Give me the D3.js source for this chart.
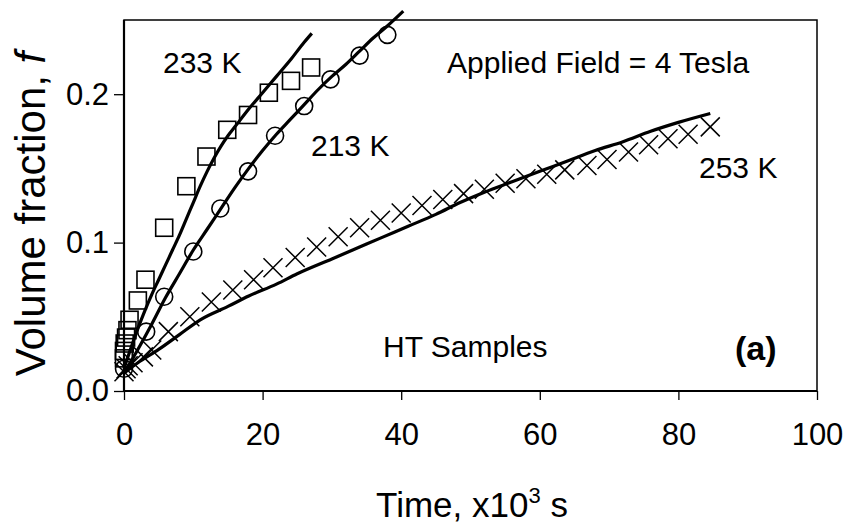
<!DOCTYPE html>
<html><head><meta charset="utf-8">
<script src="https://cdn.jsdelivr.net/npm/d3@7"></script>
<style>body{margin:0;background:#fff}text{font-family:"Liberation Sans",Arial,sans-serif}</style>
</head><body><svg id="c" width="847" height="530"></svg>
<script>
// ---- data (time in 10^3 s, volume fraction f) ----
const xTicks = [0, 20, 40, 60, 80, 100];
const yTicks = [0.0, 0.1, 0.2];
// 233 K squares
const sq233T = [0, 0, 0.1, 0.3, 0.5, 0.8, 2.0, 3.1, 5.8, 9.0, 11.9, 14.9, 17.9, 20.9, 24.1, 27.0];
const sq233F = [0.022, 0.027, 0.032, 0.036, 0.041, 0.048, 0.061, 0.075, 0.110, 0.138, 0.158, 0.176, 0.186, 0.201, 0.209, 0.218];
// 213 K circles
const ci213T = [0, 3.2, 5.8, 10.0, 13.9, 17.9, 21.8, 26.0, 29.8, 34.0, 38.0];
const ci213F = [0.015, 0.040, 0.0635, 0.094, 0.123, 0.148, 0.172, 0.192, 0.210, 0.226, 0.240];
// 253 K crosses
const cr253T = [0, 0.3, 0.6, 1.3, 2.8, 4.0, 6.4, 9.5, 12.6, 15.7, 18.7, 21.5, 24.7, 27.8, 30.9, 34, 37, 40, 43, 46, 49, 52, 55, 58, 61, 63.6, 66.8, 69.7, 72.8, 75.7, 78.5, 81.4, 84.6];
const cr253F = [0.013, 0.015, 0.017, 0.019, 0.023, 0.0276, 0.040, 0.050, 0.060, 0.068, 0.075, 0.083, 0.090, 0.097, 0.104, 0.110, 0.115, 0.120, 0.125, 0.129, 0.133, 0.136, 0.140, 0.143, 0.146, 0.149, 0.152, 0.156, 0.161, 0.166, 0.170, 0.173, 0.178];
// fitted curves
const fit233T = [0, 1, 2, 3, 4, 5, 6, 7, 8, 9, 10, 11, 12, 13, 14, 15, 16, 18, 20, 22, 24, 26, 27.1];
const fit233F = [0.015, 0.029, 0.042, 0.054, 0.065, 0.075, 0.085, 0.095, 0.105, 0.116, 0.127, 0.138, 0.148, 0.157, 0.165, 0.172, 0.178, 0.190, 0.201, 0.212, 0.223, 0.235, 0.241];
const fit213T = [0, 2, 4, 6, 8, 10, 12, 14, 16, 18, 20, 22, 24, 26, 28, 30, 32, 34, 36, 38, 40.3];
const fit213F = [0.012, 0.028, 0.045, 0.063, 0.079, 0.095, 0.109, 0.123, 0.137, 0.150, 0.162, 0.173, 0.183, 0.193, 0.203, 0.212, 0.220, 0.229, 0.238, 0.246, 0.256];
const fit253T = [0, 2, 5, 8, 11, 15, 18, 22, 25, 30, 33, 37, 41, 45, 48.5, 52, 56, 60, 64, 68, 72, 76, 80, 84.6];
const fit253F = [0.012, 0.019, 0.028, 0.038, 0.048, 0.057, 0.064, 0.072, 0.079, 0.089, 0.095, 0.103, 0.111, 0.119, 0.127, 0.134, 0.141, 0.148, 0.155, 0.162, 0.168, 0.175, 0.181, 0.187];
const labels = ["233 K", "213 K", "253 K", "Applied Field = 4 Tesla", "HT Samples", "(a)"];

// ---- layout ----
const svg = d3.select("#c");
const L = 124, R = 817, T = 20, B = 391;
const x = d3.scaleLinear().domain([0, 100]).range([L, R]);
const y = d3.scaleLinear().domain([0, 0.25]).range([B, T]);
const zip = (a, b) => a.map((v, i) => [v, b[i]]);

// frame
svg.append("rect").attr("x", L).attr("y", T).attr("width", R - L).attr("height", B - T)
  .attr("fill", "none").attr("stroke", "#000").attr("stroke-width", 1.5);

// axes
const ya = svg.append("g").attr("transform", `translate(${L},0)`)
  .call(d3.axisLeft(y).tickValues(yTicks).tickFormat(d3.format(".1f")).tickSize(10).tickPadding(5));
const xa = svg.append("g").attr("transform", `translate(0,${B})`)
  .call(d3.axisBottom(x).tickValues(xTicks).tickFormat(d3.format("d")).tickSize(9).tickPadding(23));
[ya, xa].forEach(g => {
  g.select(".domain").attr("stroke", "#000").attr("stroke-width", 2.2);
  g.selectAll(".tick line").attr("stroke", "#000").attr("stroke-width", 1.3);
  g.selectAll(".tick text").attr("fill", "#000").style("font-size", "31px");
});
ya.select(".domain").attr("d", `M0,${T}V${B}`);
xa.select(".domain").attr("d", `M${L},0H${R}`);

// fitted lines
const line = d3.line().x(d => x(d[0])).y(d => y(d[1])).curve(d3.curveMonotoneX);
[[fit233T, fit233F], [fit213T, fit213F], [fit253T, fit253F]].forEach(([t, f]) => {
  svg.append("path").attr("d", line(zip(t, f))).attr("fill", "none")
    .attr("stroke", "#000").attr("stroke-width", 3.2).attr("stroke-linejoin", "round");
});

// markers
svg.append("g").selectAll("rect").data(zip(sq233T, sq233F)).join("rect")
  .attr("x", d => x(d[0]) - 8.5).attr("y", d => y(d[1]) - 8.5).attr("width", 17).attr("height", 17)
  .attr("fill", "none").attr("stroke", "#000").attr("stroke-width", 1.6);
svg.append("g").selectAll("circle").data(zip(ci213T, ci213F)).join("circle")
  .attr("cx", d => x(d[0])).attr("cy", d => y(d[1])).attr("r", 8.5)
  .attr("fill", "none").attr("stroke", "#000").attr("stroke-width", 1.6);
svg.append("g").selectAll("path").data(zip(cr253T, cr253F)).join("path")
  .attr("d", d => { const cx = x(d[0]), cy = y(d[1]), s = 9.5;
    return `M${cx - s},${cy - s}L${cx + s},${cy + s}M${cx - s},${cy + s}L${cx + s},${cy - s}`; })
  .attr("stroke", "#000").attr("stroke-width", 1.5).attr("fill", "none");

// annotations
const ann = [[labels[0], 163, 73], [labels[1], 311, 156], [labels[2], 699, 178],
             [labels[3], 447, 73], [labels[4], 383, 357]];
ann.forEach(([s, ax, ay]) => svg.append("text").attr("x", ax).attr("y", ay)
  .style("font-size", "30px").attr("fill", "#000").text(s));
svg.append("text").attr("x", 735).attr("y", 360).style("font-size", "34px")
  .style("font-weight", "bold").attr("fill", "#000").text(labels[5]);

// axis titles
const xt = svg.append("text").attr("x", 472).attr("y", 517).attr("text-anchor", "middle")
  .style("font-size", "35px").attr("fill", "#000");
xt.append("tspan").text("Time, x10");
xt.append("tspan").attr("dy", -14).style("font-size", "22px").text("3");
xt.append("tspan").attr("dy", 14).text(" s");
const yt = svg.append("text").attr("transform", "translate(45,214) rotate(-90)")
  .attr("text-anchor", "middle").style("font-size", "42px").attr("fill", "#000");
yt.append("tspan").text("Volume fraction, ");
yt.append("tspan").style("font-style", "italic").text("f");
</script></body></html>
